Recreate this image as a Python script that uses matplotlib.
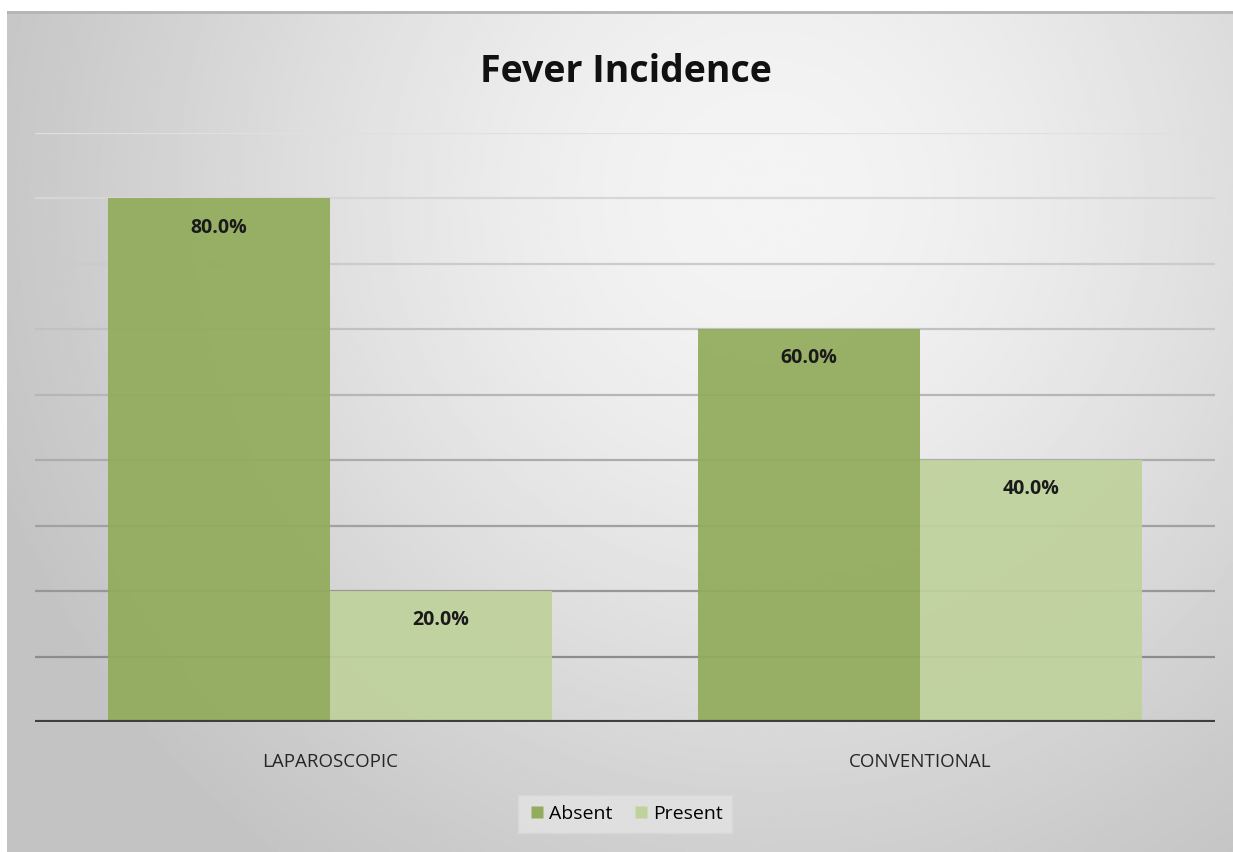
import numpy as np
import matplotlib.pyplot as plt
from matplotlib.lines import Line2D

plt.rcParams['font.family'] = ['Open Sans', 'DejaVu Sans']

categories = ["LAPAROSCOPIC", "CONVENTIONAL"]
series_names = ["Absent", "Present"]
absent = [0.80, 0.60]
present = [0.20, 0.40]
y_ticks = [0.1, 0.2, 0.3, 0.4, 0.5, 0.6, 0.7, 0.8, 0.9]

colors = ["#92ab5c", "#bfd29c"]

W, H = 1233, 852
fig = plt.figure(figsize=(W / 100, H / 100), dpi=100)

# radial grey backdrop
bg = fig.add_axes([7 / W, 0, 1 - 7 / W, 1 - 11 / H])
bg.set_axis_off()
yy, xx = np.mgrid[0:1:400j, 0:1:600j]
r = np.sqrt(((xx - 0.62) / 0.68) ** 2 + ((yy - 0.22) / 1.0) ** 2)
r = np.clip(r, 0, 1)
shade = 0.955 - 0.19 * r ** 2 * (2 - r)
bg.imshow(shade, cmap="gray", vmin=0, vmax=1, aspect="auto",
          extent=[0, 1, 1, 0], interpolation="bilinear")
bg.set_xlim(0, 1)
bg.set_ylim(1, 0)
bg.axhline(0.001, color="#b5b5b5", lw=2)

ax = fig.add_axes([35 / W, 130 / H, (1215 - 35) / W, (722 - 133) / H])
ax.set_facecolor("none")
ax.set_xlim(-0.5, 1.5)
ax.set_ylim(0, 0.9)

# gridlines fade out towards the top
for i, t in enumerate(y_ticks):
    g = 0.55 + 0.33 * i / (len(y_ticks) - 1)
    ax.axhline(t, color=(g, g, g), lw=1.6, zorder=1)

x = np.arange(len(categories))
bw = 0.376
b1 = ax.bar(x - bw / 2, absent, bw, color=colors[0], alpha=0.93, zorder=2,
            edgecolor="none", label=series_names[0])
b2 = ax.bar(x + bw / 2, present, bw, color=colors[1], alpha=0.93, zorder=2,
            edgecolor="none", label=series_names[1])

for bars, vals in [(b1, absent), (b2, present)]:
    for rect, v in zip(bars, vals):
        ax.annotate(f"{v * 100:.1f}%",
                    (rect.get_x() + rect.get_width() / 2, v),
                    xytext=(0, -21), textcoords="offset points",
                    ha="center", va="center", fontsize=14,
                    fontweight="bold", color="#1a1a1a", zorder=4)

ax.axhline(0, color="#3f3f3f", lw=3, zorder=3)

ax.set_xticks(x)
ax.set_xticklabels(categories, fontsize=13.5, color="#262626")
ax.tick_params(axis="x", length=0, pad=22)
ax.set_yticks([])
for s in ax.spines.values():
    s.set_visible(False)

fig.text(626 / W, 1 - 72 / H, "Fever Incidence", ha="center", va="center",
         fontsize=27, fontweight="bold", color="#111111")

handles = [Line2D([], [], marker="s", ls="none", markersize=9,
                  markerfacecolor=c, markeredgecolor="none") for c in colors]
leg = fig.legend(handles, series_names, loc="center",
                 bbox_to_anchor=(625 / W, 1 - 814 / H), ncol=2,
                 fontsize=14, frameon=True, fancybox=False,
                 handletextpad=0.1, columnspacing=1.0, handlelength=1.0,
                 borderpad=0.5)
leg.get_frame().set_facecolor("#e2e2e2")
leg.get_frame().set_edgecolor("#d8d8d8")
leg.get_frame().set_alpha(0.85)

fig.savefig("out.png", dpi=100)
